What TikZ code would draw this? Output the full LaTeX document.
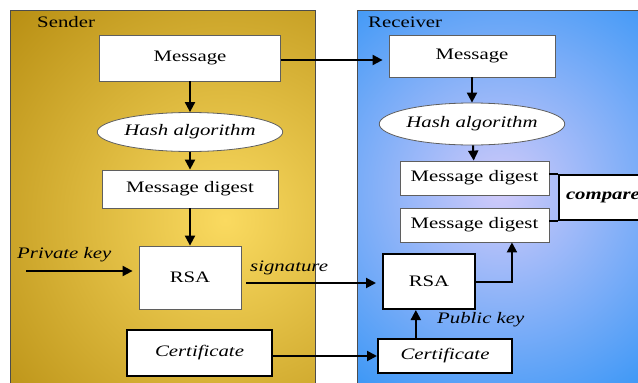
\documentclass[tikz,border=0pt]{standalone}
\usepackage{fontspec}
\setmainfont{Liberation Serif}[FakeStretch=1.3]
\usetikzlibrary{shapes.geometric,arrows.meta,calc}
\definecolor{goldbase}{RGB}{180,138,14}
\definecolor{goldlight}{RGB}{250,218,96}
\definecolor{bluebase}{RGB}{56,150,246}
\definecolor{bluelight}{RGB}{208,202,250}
\definecolor{boxline}{RGB}{95,95,95}
\begin{document}
\begin{tikzpicture}[x=1pt,y=-1pt,
  every node/.style={font=\fontsize{16}{18}\selectfont},
  box/.style={draw=boxline, line width=0.8pt, fill=white, inner sep=0pt},
  thickbox/.style={draw=black, line width=2pt, fill=white, inner sep=0pt},
  hashnode/.style={ellipse, draw=boxline, line width=0.8pt, fill=white, inner sep=0pt, font=\fontsize{16}{18}\selectfont\itshape},
  arr/.style={line width=2pt, -{Triangle[length=10pt,width=10pt]}},
  lbl/.style={font=\fontsize{16}{18}\selectfont\itshape, inner sep=0pt},
  title/.style={font=\fontsize{16}{18}\selectfont, inner sep=0pt, anchor=west},
]
\clip (0,0) rectangle (638,383);
\useasboundingbox (0,0) rectangle (638,383);
\fill[white] (0,0) rectangle (638,383);
% sender panel
\begin{scope}
  \clip (10,10) rectangle (315,400);
  \fill[goldbase] (10,10) rectangle (315,400);
  \shade[inner color=goldlight, outer color=goldbase] (225,220) circle (320);
\end{scope}
\draw[black!70, line width=0.8pt] (10,10) rectangle (315,400);
% receiver panel
\begin{scope}
  \clip (357,10) rectangle (660,400);
  \fill[bluebase] (357,10) rectangle (660,400);
  \shade[inner color=bluelight, outer color=bluebase] (500,190) circle (250);
\end{scope}
\draw[black!70, line width=0.8pt] (357,10) rectangle (660,400);

\node[title] (sendertitle) at (37,22) {Sender};
\node[title] (receivertitle) at (368,22) {Receiver};

% sender nodes
\node[box, minimum width=181pt, minimum height=46pt] (smsg) at (190,58) {Message};
\node[hashnode, minimum width=176pt, minimum height=39pt] (shash) at (190,132) {Hash algorithm};
\node[box, minimum width=176pt, minimum height=38pt] (sdig) at (190,189) {Message digest};
\node[box, minimum width=102pt, minimum height=63pt] (srsa) at (190,277.5) {RSA};
\node[thickbox, minimum width=145pt, minimum height=46pt] (scert) at (199.5,353) {\itshape Certificate};
\coordinate (pk) at (26,271);
\node[lbl, anchor=south west] (pklbl) at (17,262) {Private key};
\node[lbl, anchor=south west] (siglbl) at (250,275) {signature};

% receiver nodes
\node[box, minimum width=166pt, minimum height=42pt] (rmsg) at (472,56) {Message};
\node[hashnode, minimum width=156pt, minimum height=42pt] (rhash) at (472,124) {Hash algorithm};
\node[box, minimum width=149pt, minimum height=34pt] (rdig1) at (474.5,178) {Message digest};
\node[box, minimum width=149pt, minimum height=34pt] (rdig2) at (474.5,225) {Message digest};
\node[thickbox, minimum width=92pt, minimum height=55pt] (rrsa) at (429,281.5) {RSA};
\node[thickbox, minimum width=134pt, minimum height=34pt] (rcert) at (445,356) {\itshape Certificate};
\node[lbl, anchor=south west] (pubkey) at (437,327) {Public key};
\node[thickbox, minimum width=140pt, minimum height=45pt, text width=126pt, align=left, inner xsep=7pt,
      font=\fontsize{16}{18}\selectfont\bfseries\itshape] (cmp) at (629,197.5) {compare};

% connectors
\draw[arr] (smsg) -- (shash);
\draw[arr] (shash) -- (sdig);
\draw[arr] (sdig) -- (srsa);
\draw[arr, shorten >=6pt] (pk) -- (srsa.west |- pk);
\draw[arr, shorten >=6pt] (smsg.east |- 0,60) -- (rmsg.west |- 0,60);
\draw[arr] (rmsg) -- (rhash);
\draw[arr] (rhash) -- (rdig1);
\draw[arr, shorten <=5pt, shorten >=6pt] (srsa.east |- 0,283) -- (rrsa.west |- 0,283);
\draw[arr] (scert.east |- rcert) -- (rcert.west);
\coordinate (up) at ($(rdig2.south west)!0.75!(rdig2.south east)$);
\draw[arr] (rrsa.east) -| (up);
\coordinate (cu) at ($(rrsa.south west)!0.36!(rrsa.south east)$);
\draw[arr] (cu |- rcert.north) -- (cu);
\draw[line width=2pt] (rdig1.east |- cmp.north west) -- (cmp.north west);
\draw[line width=2pt] (rdig2.east |- cmp.south west) -- (cmp.south west);
\end{tikzpicture}
\end{document}
